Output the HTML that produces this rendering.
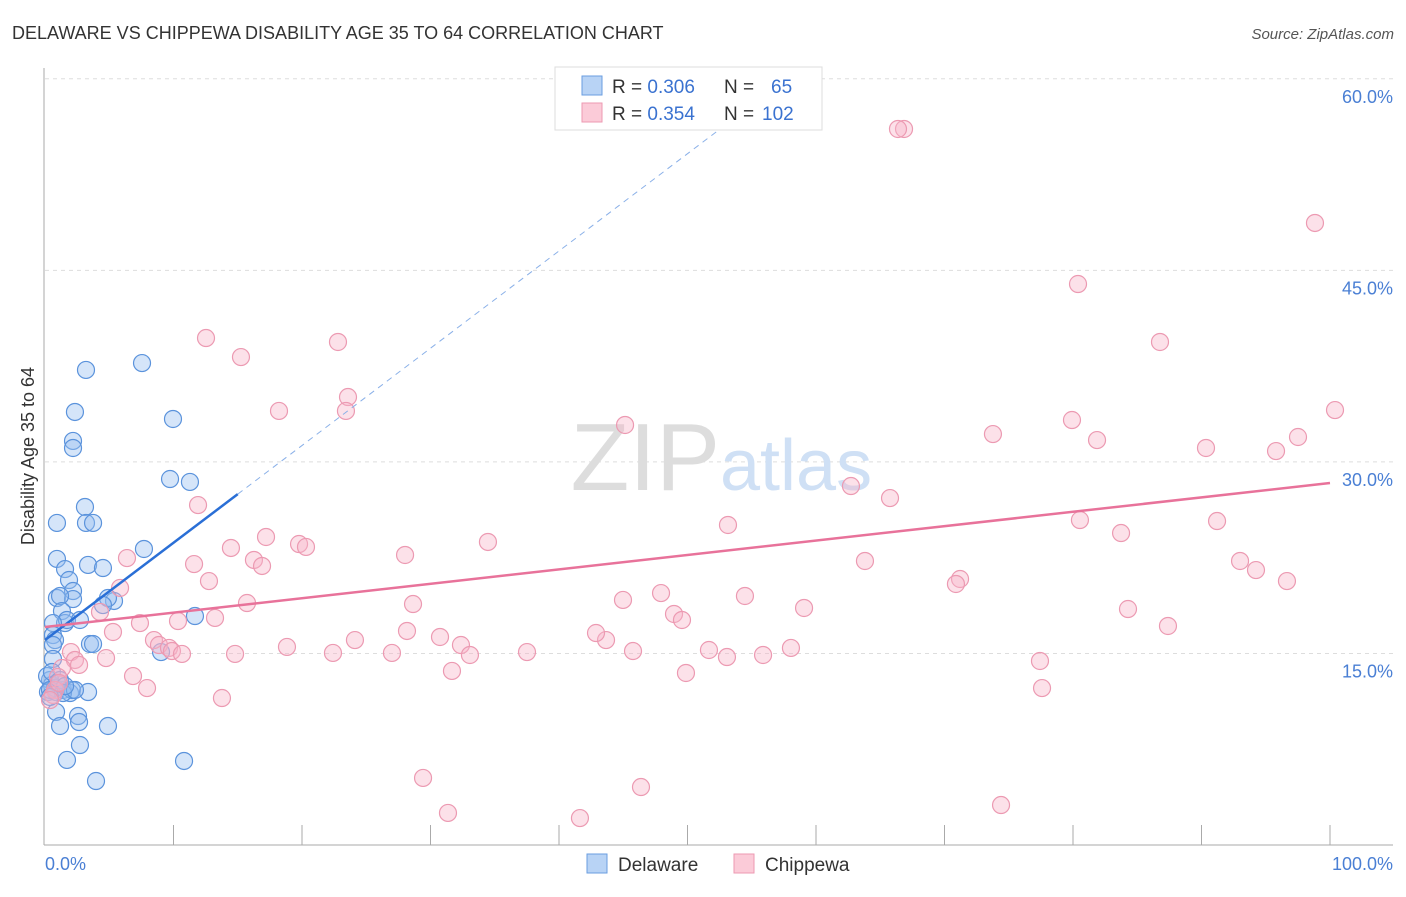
<!DOCTYPE html>
<html><head><meta charset="utf-8"><style>
body{margin:0;background:#fff;font-family:"Liberation Sans",sans-serif;}
svg text{font-family:"Liberation Sans",sans-serif;}
</style></head><body>
<svg width="1406" height="892" viewBox="0 0 1406 892">
<text x="12" y="39" font-size="18" fill="#333">DELAWARE VS CHIPPEWA DISABILITY AGE 35 TO 64 CORRELATION CHART</text>
<text x="1394" y="39" font-size="15" fill="#555" text-anchor="end" font-style="italic">Source: ZipAtlas.com</text>
<g id="grid"></g>
<text x="720" y="490" font-size="96" fill="#ddd" text-anchor="end" font-family="Liberation Serif">ZIP</text>
<text x="720" y="490" font-size="72" fill="#cfe0f5">atlas</text>
<line x1="44" y1="68" x2="44" y2="845" stroke="#aaa"/>
<line x1="44" y1="845" x2="1393" y2="845" stroke="#aaa"/>
<g id="xticks"></g>
<g id="ylabels"></g>
<text x="45" y="870" font-size="18" fill="#4a7fd4">0.0%</text>
<text x="1393" y="870" font-size="18" fill="#4a7fd4" text-anchor="end">100.0%</text>
<text transform="translate(34,456) rotate(-90)" font-size="18" fill="#333" text-anchor="middle">Disability Age 35 to 64</text>
<g id="pts"></g>
<g id="lines"></g>
<g>
<rect x="555" y="67" width="267" height="63" fill="#fff" stroke="#ddd"/>
<rect x="582" y="76" width="20" height="19" fill="#b8d3f5" stroke="#6a9ee0"/>
<rect x="582" y="103" width="20" height="19" fill="#fbcbd8" stroke="#ec9ab2"/>
<text x="612" y="93" font-size="19" fill="#333">R = <tspan fill="#3a72d0">0.306</tspan><tspan x="724">N = </tspan><tspan x="771" fill="#3a72d0">65</tspan></text>
<text x="612" y="120" font-size="19" fill="#333">R = <tspan fill="#3a72d0">0.354</tspan><tspan x="724">N = </tspan><tspan x="762" fill="#3a72d0">102</tspan></text>
</g>
<g>
<rect x="587" y="854" width="20" height="19" fill="#b8d3f5" stroke="#6a9ee0"/>
<text x="618" y="871" font-size="19" fill="#333">Delaware</text>
<rect x="734" y="854" width="20" height="19" fill="#fbcbd8" stroke="#ec9ab2"/>
<text x="765" y="871" font-size="19" fill="#333">Chippewa</text>
</g>
</svg>
<script>
const yTicks=[15,30,45,60];
const yTickLabels=["15.0%","30.0%","45.0%","60.0%"];
const xTicks=[10,20,30,40,50,60,70,80,90,100];
const bluePx=[[86,370],[142,363],[75,412],[73,441],[73,448],[173,419],[85,507],[57,523],[86,523],[93,523],[170,479],[190,482],[57,559],[144,549],[65,569],[88,565],[103,568],[69,580],[73,591],[57,598],[73,599],[60,596],[114,601],[108,598],[103,605],[62,611],[65,623],[67,620],[53,623],[80,620],[53,635],[55,640],[53,645],[195,616],[90,644],[93,644],[161,652],[53,659],[50,680],[52,685],[48,692],[56,692],[63,690],[70,693],[72,690],[88,692],[56,712],[78,716],[79,722],[60,726],[108,726],[80,745],[67,760],[96,781],[184,761],[47,676],[52,672],[55,688],[57,683],[50,690],[60,680],[63,693],[75,690],[65,686],[50,697]];
const pinkPx=[[904,129],[898,129],[1315,223],[1078,284],[206,338],[338,342],[241,357],[1160,342],[348,397],[279,411],[346,411],[625,425],[1072,420],[993,434],[1097,440],[1206,448],[1276,451],[1298,437],[1335,410],[851,486],[198,505],[890,498],[728,525],[1080,520],[1217,521],[1121,533],[266,537],[299,544],[306,547],[231,548],[488,542],[405,555],[127,558],[254,560],[262,566],[194,564],[865,561],[1240,561],[1256,570],[1287,581],[960,579],[956,584],[209,581],[120,588],[661,593],[623,600],[745,596],[413,604],[247,603],[100,612],[674,614],[682,620],[804,608],[1128,609],[1168,626],[140,623],[215,618],[178,621],[113,632],[407,631],[440,637],[355,640],[461,645],[606,640],[596,633],[154,640],[159,645],[169,648],[172,651],[182,654],[235,654],[287,647],[333,653],[392,653],[470,655],[527,652],[633,651],[709,650],[727,657],[763,655],[791,648],[71,652],[75,660],[106,658],[79,665],[62,668],[58,677],[452,671],[686,673],[1040,661],[133,676],[147,688],[1042,688],[55,690],[53,695],[222,698],[423,778],[641,787],[448,813],[580,818],[1001,805],[59,683],[50,700]];
// convert estimated reading positions to data values (x %, y %)
const toData=p=>[+((p[0]-45)/12.85).toFixed(2),+((845-p[1])/12.77).toFixed(2)];
const delawareX=bluePx.map(p=>toData(p)[0]), delawareY=bluePx.map(p=>toData(p)[1]);
const chippewaX=pinkPx.map(p=>toData(p)[0]), chippewaY=pinkPx.map(p=>toData(p)[1]);
const blueFit=[16.05,0.7617], pinkFit=[17.07,0.1128];
const X=v=>45+v*12.85, Y=v=>845-v*12.77;
const NS="http://www.w3.org/2000/svg";
function mk(tag,attrs,parent){const e=document.createElementNS(NS,tag);for(const k in attrs)e.setAttribute(k,attrs[k]);document.getElementById(parent).appendChild(e);return e;}
yTicks.forEach((t,i)=>{
 const l=mk('line',{x1:45,x2:1393,y1:Y(t),y2:Y(t),stroke:'#ddd','stroke-dasharray':'4,4'},'grid');
 
 
 const tx=mk('text',{x:1393,y:Y(t)+24,'font-size':18,fill:'#4a7fd4','text-anchor':'end'},'ylabels');
 tx.textContent=yTickLabels[i];
 
 
});
xTicks.forEach(t=>{
 const l=mk('line',{x1:X(t),x2:X(t),y1:825,y2:845,stroke:'#aaa'},'xticks');
 
 
});
delawareX.forEach((x,i)=>{
 const c=mk('circle',{cx:X(x),cy:Y(delawareY[i]),r:8.5,fill:'rgba(150,190,240,0.4)',stroke:'#5b93dc','stroke-width':1.2},'pts');
 
 
});
chippewaX.forEach((x,i)=>{
 const c=mk('circle',{cx:X(x),cy:Y(chippewaY[i]),r:8.5,fill:'rgba(248,180,200,0.4)',stroke:'#ec9ab2','stroke-width':1.2},'pts');
 
 
});
const bl=mk('line',{x1:X(0),y1:Y(blueFit[0]),x2:X(15),y2:Y(blueFit[0]+15*blueFit[1]),stroke:'#2a6fd6','stroke-width':2.5},'lines');


const xe=(60-blueFit[0])/blueFit[1];
const bd=mk('line',{x1:X(15),y1:Y(blueFit[0]+15*blueFit[1]),x2:X(xe),y2:Y(60),stroke:'#8ab0e8','stroke-width':1,'stroke-dasharray':'6,5'},'lines');


const pl=mk('line',{x1:X(0),y1:Y(pinkFit[0]),x2:X(100),y2:Y(pinkFit[0]+100*pinkFit[1]),stroke:'#e8729a','stroke-width':2.5},'lines');


</script>
</body></html>
